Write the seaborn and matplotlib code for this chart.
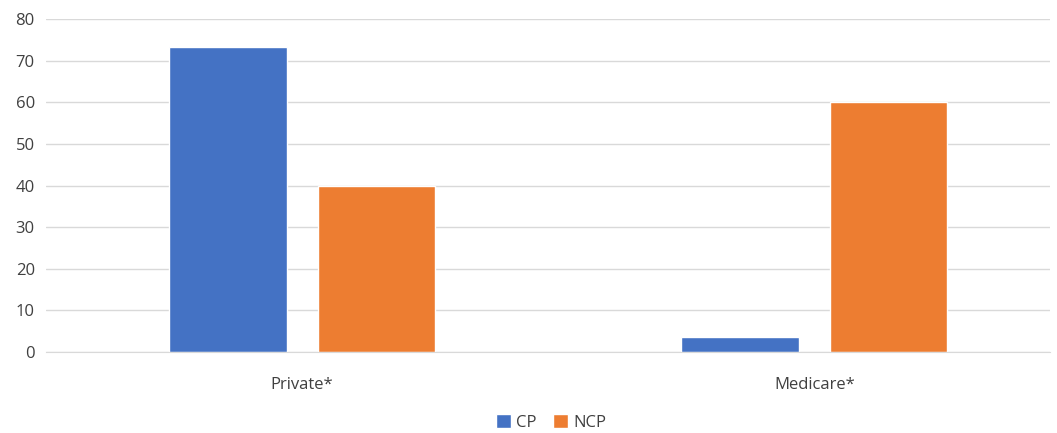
import pandas as pd
import seaborn as sns
import matplotlib.pyplot as plt

categories = ["Private*", "Medicare*"]
series = ["CP", "NCP"]
cp_values = [73.3, 3.7]
ncp_values = [40, 60]
colors = ["#4472C4", "#ED7D31"]

df = pd.DataFrame({
    "category": categories * 2,
    "group": ["CP"] * len(categories) + ["NCP"] * len(categories),
    "value": cp_values + ncp_values,
})

sns.set_style("white")
plt.rcParams["font.family"] = ["Open Sans", "DejaVu Sans"]

fig = plt.figure(figsize=(10.57, 4.33), dpi=100)
ax = fig.add_axes([0.0435, 0.187, 0.95, 0.769])

sns.barplot(data=df, x="category", y="value", hue="group", hue_order=series,
            palette=colors, width=0.58, gap=0.21, saturation=1, ax=ax,
            legend=True)

ax.set_ylim(0, 80)
ax.set_yticks(range(0, 81, 10))
ax.set_xlim(-0.5, 1.46)
ax.yaxis.grid(True, color="#d9d9d9", linewidth=1)
ax.set_axisbelow(True)
for s in ["top", "right", "left"]:
    ax.spines[s].set_visible(False)
ax.spines["bottom"].set_color("#d9d9d9")
ax.tick_params(axis="both", length=0, labelsize=12, colors="#404040")
ax.tick_params(axis="x", pad=18)
ax.tick_params(axis="y", pad=8)
ax.set_xlabel("")
ax.set_ylabel("")

ax.legend(loc="center", bbox_to_anchor=(0.503, -0.212), ncol=2, frameon=False,
          fontsize=12, handlelength=0.9, handleheight=0.9, handletextpad=0.3,
          columnspacing=1.0, labelcolor="#404040", borderaxespad=0, borderpad=0)

fig.savefig("out.png", dpi=100)
